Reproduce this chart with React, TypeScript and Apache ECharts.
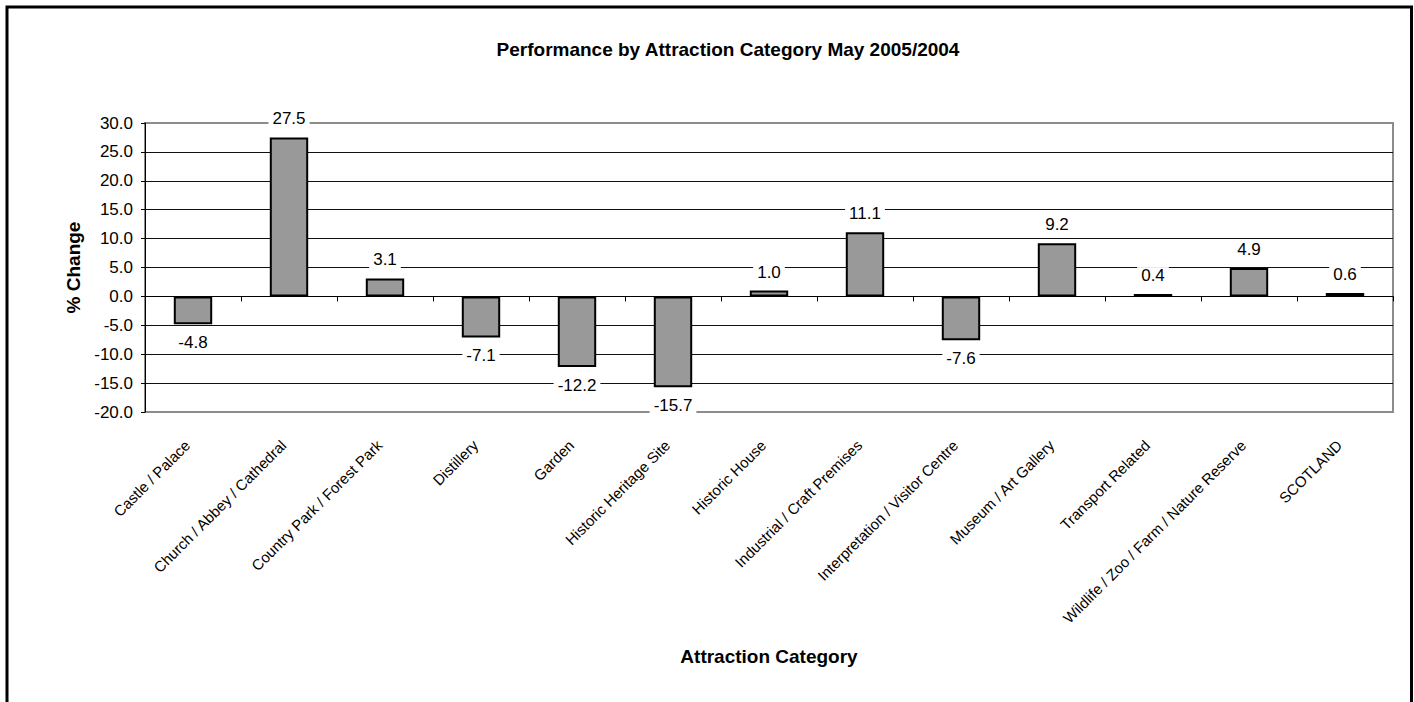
import React, { useEffect, useRef } from "react";
import * as echarts from "echarts";

const categories = [
  "Castle / Palace",
  "Church / Abbey / Cathedral",
  "Country Park / Forest Park",
  "Distillery",
  "Garden",
  "Historic Heritage Site",
  "Historic House",
  "Industrial / Craft Premises",
  "Interpretation / Visitor Centre",
  "Museum / Art Gallery",
  "Transport Related",
  "Wildlife / Zoo / Farm / Nature Reserve",
  "SCOTLAND",
];

const changeValues = [-4.8, 27.5, 3.1, -7.1, -12.2, -15.7, 1.0, 11.1, -7.6, 9.2, 0.4, 4.9, 0.6];

const yMin = -20;
const yMax = 30;
const yInterval = 5;

const titleText = "Performance by Attraction Category May 2005/2004";
const yAxisTitle = "% Change";
const xAxisTitle = "Attraction Category";

const FONT = "'Liberation Sans Narrow', 'Arial Narrow', 'Liberation Sans', Arial, sans-serif";

export default function App() {
  const ref = useRef<HTMLDivElement>(null);

  useEffect(() => {
    if (!ref.current) return;
    const chart = echarts.init(ref.current, null, { renderer: "svg" });

    const nLines = Math.round((yMax - yMin) / yInterval) + 1;
    const splitColors = Array.from({ length: nLines }, (_, i) =>
      i === 0 || i === nLines - 1 ? "#8c8c8c" : "#111111"
    );

    const option: any = {
      animation: false,
      backgroundColor: "#ffffff",
      textStyle: { fontFamily: FONT },
      graphic: [
        {
          type: "rect",
          shape: { x: 7, y: 7, width: 1404.5, height: 760 },
          style: { fill: "none", stroke: "#000", lineWidth: 3 },
          z: 100,
        },
        {
          type: "text",
          x: 728,
          y: 49,
          style: {
            text: titleText,
            fontFamily: FONT,
            fontWeight: "bold",
            fontSize: 19,
            fill: "#000",
            textAlign: "center",
            textVerticalAlign: "middle",
          },
        },
      ],
      grid: {
        left: 145,
        right: 21,
        top: 123,
        bottom: 290,
        show: true,
        borderColor: "#8c8c8c",
        borderWidth: 2,
        backgroundColor: "transparent",
      },
      xAxis: [
        {
          type: "category",
          data: categories,
          axisLine: { show: true, onZero: true, lineStyle: { color: "#000", width: 1 } },
          axisTick: { show: true, interval: 0, length: 5, lineStyle: { color: "#000" } },
          axisLabel: { show: false },
          splitLine: { show: false },
        },
        {
          type: "category",
          data: categories,
          position: "bottom",
          axisLine: { show: false },
          axisTick: { show: false },
          axisLabel: {
            show: true,
            interval: 0,
            rotate: 45,
            margin: 25,
            padding: [0, 8, 0, 0],
            fontFamily: FONT,
            fontSize: 15,
            color: "#000",
          },
          name: xAxisTitle,
          nameLocation: "middle",
          nameGap: 235,
          nameTextStyle: { fontFamily: FONT, fontWeight: "bold", fontSize: 19, color: "#000" },
        },
      ],
      yAxis: {
        type: "value",
        min: yMin,
        max: yMax,
        interval: yInterval,
        axisLine: { show: true, lineStyle: { color: "#000", width: 1 } },
        axisTick: { show: true, length: 4, lineStyle: { color: "#000" } },
        axisLabel: {
          formatter: (v: number) => v.toFixed(1),
          margin: 12,
          fontFamily: FONT,
          fontSize: 17,
          color: "#000",
        },
        splitLine: { show: true, lineStyle: { color: splitColors, width: 1 } },
        name: yAxisTitle,
        nameLocation: "middle",
        nameGap: 59,
        nameTextStyle: { fontFamily: FONT, fontWeight: "bold", fontSize: 19, color: "#000" },
      },
      series: [
        {
          type: "bar",
          xAxisIndex: 0,
          data: changeValues.map((v) => ({
            value: v,
            label: { position: v >= 0 ? "top" : "bottom" },
          })),
          barWidth: "40%",
          itemStyle: { color: "#999999", borderColor: "#000", borderWidth: 2 },
          label: {
            show: true,
            distance: 10,
            formatter: (p: any) => Number(p.value).toFixed(1),
            fontFamily: FONT,
            fontSize: 17,
            color: "#000",
            backgroundColor: "#fff",
            padding: [0, 4],
          },
        },
      ],
    };

    chart.setOption(option);
    return () => chart.dispose();
  }, []);

  return (
    <div
      ref={ref}
      style={{ position: "fixed", left: 0, top: 0, width: 1414, height: 702, background: "#fff" }}
    />
  );
}
